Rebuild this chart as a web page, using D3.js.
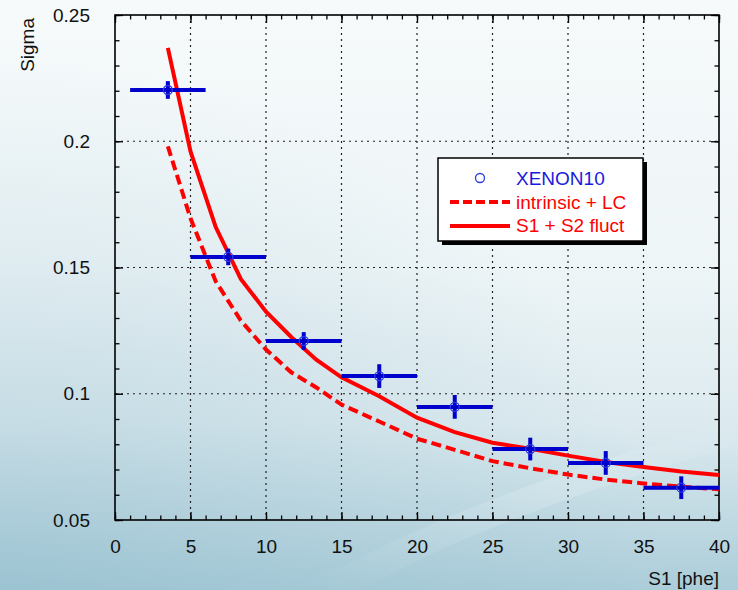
<!DOCTYPE html>
<html>
<head>
<meta charset="utf-8">
<script src="https://cdn.jsdelivr.net/npm/d3@7"></script>
<style>
  body { margin: 0; background: #fff; }
  svg text { font-family: "Liberation Sans", Arial, sans-serif; }
</style>
</head>
<body>
<svg id="chart" width="738" height="590"></svg>
<script>
// XENON10 points (bin centre, bin half width, sigma, error)
var binCenter = [3.5, 7.5, 12.5, 17.5, 22.5, 27.5, 32.5, 37.5];
var binHalf = [2.5, 2.5, 2.5, 2.5, 2.5, 2.5, 2.5, 2.5];
var sigmaData = [0.2203, 0.1542, 0.1209, 0.107, 0.0948, 0.0781, 0.0726, 0.0628];
var sigmaErr = [0.0035, 0.0033, 0.0035, 0.0047, 0.0047, 0.0045, 0.0047, 0.0045];

// model curves
var curveX = [3.5, 5, 6.67, 8.33, 10, 11.67, 13.33, 15, 17.5, 20, 22.5, 25, 27.5, 30, 32.5, 35, 37.5, 40];
var fluctY = [0.237, 0.196, 0.166, 0.1455, 0.1325, 0.1225, 0.1135, 0.1065, 0.099, 0.0905, 0.0848, 0.0806, 0.0782, 0.0755, 0.073, 0.071, 0.0692, 0.0678];
var intrinsicY = [0.198, 0.1695, 0.1445, 0.129, 0.1175, 0.1085, 0.1025, 0.0957, 0.089, 0.0822, 0.0778, 0.0733, 0.0705, 0.068, 0.066, 0.0645, 0.0632, 0.0622];

var xTicks = [0, 5, 10, 15, 20, 25, 30, 35, 40];
var yTicks = [0.05, 0.1, 0.15, 0.2, 0.25];
var legendLabels = ["XENON10", "intrinsic + LC", "S1 + S2 fluct"];

var svg = d3.select("#chart");
var W = 738, H = 590;
var pLeft = 115, pRight = 719, pTop = 15, pBottom = 520;

var x = d3.scaleLinear().domain([0, 40]).range([pLeft, pRight]);
var y = d3.scaleLinear().domain([0.05, 0.25]).range([pBottom, pTop]);

// background
var defs = svg.append("defs");
var bg = defs.append("linearGradient").attr("id", "bg")
    .attr("x1", 0).attr("y1", 0).attr("x2", 0).attr("y2", 1);
bg.append("stop").attr("offset", "0%").attr("stop-color", "#f6fafb");
bg.append("stop").attr("offset", "45%").attr("stop-color", "#eef5f7");
bg.append("stop").attr("offset", "72%").attr("stop-color", "#dceaef");
bg.append("stop").attr("offset", "100%").attr("stop-color", "#abcdd9");
var corner = defs.append("radialGradient").attr("id", "corner")
    .attr("cx", 0).attr("cy", 1).attr("r", 0.9);
corner.append("stop").attr("offset", "0%").attr("stop-color", "#7fb0c4").attr("stop-opacity", 0.35);
corner.append("stop").attr("offset", "100%").attr("stop-color", "#7fb0c4").attr("stop-opacity", 0);
var streak = defs.append("linearGradient").attr("id", "streak")
    .attr("x1", 0).attr("y1", 1).attr("x2", 1).attr("y2", 0);
streak.append("stop").attr("offset", "0%").attr("stop-color", "#ffffff").attr("stop-opacity", 0);
streak.append("stop").attr("offset", "60%").attr("stop-color", "#ffffff").attr("stop-opacity", 0.18);
streak.append("stop").attr("offset", "100%").attr("stop-color", "#ffffff").attr("stop-opacity", 0);

svg.append("rect").attr("width", W).attr("height", H).attr("fill", "url(#bg)");
svg.append("rect").attr("width", W).attr("height", H).attr("fill", "url(#corner)");
svg.append("path")
    .attr("d", "M300,590 C420,520 560,470 738,420 L738,445 C580,490 450,540 360,590 Z")
    .attr("fill", "url(#streak)");

// grid
var g = svg.append("g");
g.selectAll(".gx").data(xTicks.slice(1, -1)).enter().append("line")
    .attr("x1", function(d) { return x(d); }).attr("x2", function(d) { return x(d); })
    .attr("y1", pTop).attr("y2", pBottom)
    .attr("stroke", "#222").attr("stroke-width", 1.2).attr("stroke-dasharray", "2,4");
g.selectAll(".gy").data(yTicks.slice(1, -1)).enter().append("line")
    .attr("y1", function(d) { return y(d); }).attr("y2", function(d) { return y(d); })
    .attr("x1", pLeft).attr("x2", pRight)
    .attr("stroke", "#222").attr("stroke-width", 1.2).attr("stroke-dasharray", "2,4");

// axes with inward ticks
var xMinor = d3.range(0, 41, 1), yMinor = d3.range(0.05, 0.2501, 0.01);
function axisGroup(axis, tr) {
  var a = g.append("g").attr("transform", tr).call(axis);
  a.select(".domain").remove();
  a.selectAll(".tick line").attr("stroke", "#000").attr("stroke-width", 1.3);
  return a;
}
var xb = axisGroup(d3.axisBottom(x).tickValues(xTicks).tickSize(-8).tickPadding(20).tickFormat(d3.format("d")), "translate(0," + pBottom + ")");
axisGroup(d3.axisBottom(x).tickValues(xMinor).tickSize(-4.5).tickFormat(""), "translate(0," + pBottom + ")");
axisGroup(d3.axisTop(x).tickValues(xTicks).tickSize(-8).tickFormat(""), "translate(0," + pTop + ")");
axisGroup(d3.axisTop(x).tickValues(xMinor).tickSize(-4.5).tickFormat(""), "translate(0," + pTop + ")");
var yl = axisGroup(d3.axisLeft(y).tickValues(yTicks).tickSize(-8).tickPadding(25).tickFormat(function(d) { return String(+d.toFixed(2)); }), "translate(" + pLeft + ",0)");
axisGroup(d3.axisLeft(y).tickValues(yMinor).tickSize(-4.5).tickFormat(""), "translate(" + pLeft + ",0)");
axisGroup(d3.axisRight(y).tickValues(yTicks).tickSize(-8).tickFormat(""), "translate(" + pRight + ",0)");
axisGroup(d3.axisRight(y).tickValues(yMinor).tickSize(-4.5).tickFormat(""), "translate(" + pRight + ",0)");

xb.selectAll("text").attr("font-size", 19).attr("fill", "#111").attr("font-family", "Liberation Sans, Arial, sans-serif");
yl.selectAll("text").attr("font-size", 19).attr("fill", "#111").attr("font-family", "Liberation Sans, Arial, sans-serif");

g.append("rect").attr("x", pLeft).attr("y", pTop).attr("width", pRight - pLeft).attr("height", pBottom - pTop)
    .attr("fill", "none").attr("stroke", "#000").attr("stroke-width", 1.6);

// axis titles
svg.append("text").attr("x", pRight).attr("y", 585).attr("text-anchor", "end")
    .attr("font-size", 19).attr("fill", "#111").text("S1 [phe]");
svg.append("text").attr("transform", "translate(34,18) rotate(-90)").attr("text-anchor", "end")
    .attr("font-size", 19).attr("fill", "#111").text("Sigma");

// curves
var line = d3.line().x(function(d) { return x(d[0]); }).y(function(d) { return y(d[1]); });
g.append("path").datum(d3.zip(curveX, intrinsicY)).attr("d", line)
    .attr("fill", "none").attr("stroke", "#ff0000").attr("stroke-width", 4).attr("stroke-dasharray", "10,5");
g.append("path").datum(d3.zip(curveX, fluctY)).attr("d", line)
    .attr("fill", "none").attr("stroke", "#ff0000").attr("stroke-width", 4);

// data points
var pts = g.selectAll(".pt").data(binCenter).enter().append("g");
pts.append("line")
    .attr("x1", function(d, i) { return x(d - binHalf[i]); })
    .attr("x2", function(d, i) { return x(d + binHalf[i]); })
    .attr("y1", function(d, i) { return y(sigmaData[i]); })
    .attr("y2", function(d, i) { return y(sigmaData[i]); })
    .attr("stroke", "#0000cc").attr("stroke-width", 4);
pts.append("line")
    .attr("x1", function(d) { return x(d); }).attr("x2", function(d) { return x(d); })
    .attr("y1", function(d, i) { return y(sigmaData[i] - sigmaErr[i]); })
    .attr("y2", function(d, i) { return y(sigmaData[i] + sigmaErr[i]); })
    .attr("stroke", "#0000cc").attr("stroke-width", 4);
pts.append("circle")
    .attr("cx", function(d) { return x(d); })
    .attr("cy", function(d, i) { return y(sigmaData[i]); })
    .attr("r", 4.5).attr("fill", "none").attr("stroke", "#2a3be0").attr("stroke-width", 1.3);

// legend
var lg = svg.append("g").attr("transform", "translate(438,158)");
lg.append("rect").attr("x", 4).attr("y", 4).attr("width", 205).attr("height", 83).attr("fill", "#000");
lg.append("rect").attr("width", 205).attr("height", 83).attr("fill", "#fff").attr("stroke", "#000").attr("stroke-width", 1.5);
lg.append("circle").attr("cx", 42).attr("cy", 20).attr("r", 4.5)
    .attr("fill", "none").attr("stroke", "#2a3be0").attr("stroke-width", 1.3);
lg.append("line").attr("x1", 12).attr("x2", 72).attr("y1", 44).attr("y2", 44)
    .attr("stroke", "#ff0000").attr("stroke-width", 4).attr("stroke-dasharray", "9,4");
lg.append("line").attr("x1", 12).attr("x2", 72).attr("y1", 68).attr("y2", 68)
    .attr("stroke", "#ff0000").attr("stroke-width", 4);
var lcol = ["#1a1adc", "#ff0000", "#ff0000"];
lg.selectAll(".lt").data(legendLabels).enter().append("text")
    .attr("x", 78)
    .attr("y", function(d, i) { return 27 + i * 23.5; })
    .attr("font-size", 19).attr("fill", function(d, i) { return lcol[i]; })
    .text(function(d) { return d; });
</script>
</body>
</html>
